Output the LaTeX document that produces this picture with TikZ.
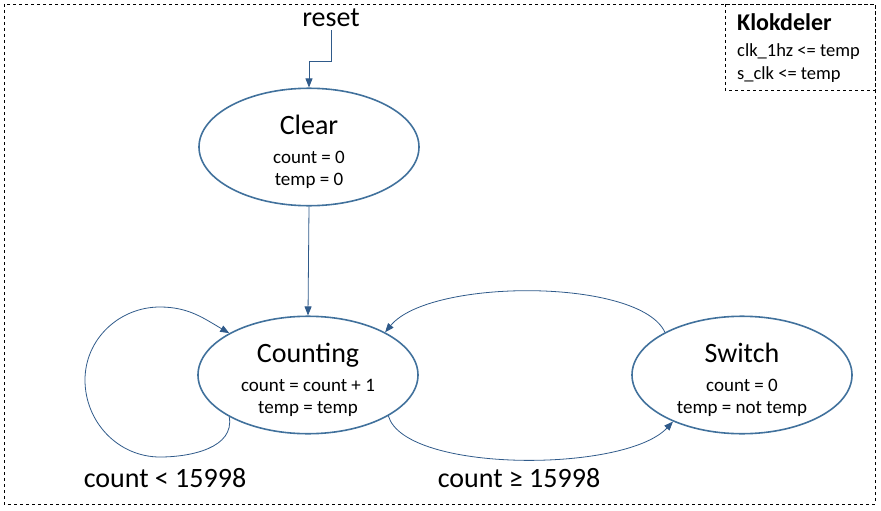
\documentclass[tikz,border=0pt]{standalone}
\usepackage{fontspec}
\setmainfont{Carlito}
\usetikzlibrary{shapes.geometric,arrows.meta}
\definecolor{rim}{HTML}{41719C}
\definecolor{wire}{HTML}{2F5A8A}
\tikzset{
 state/.style={ellipse,draw=rim,line width=1.6pt,minimum width=220pt,minimum height=114pt,inner sep=0pt,align=center,font=\fontsize{19}{22}\selectfont},
 link/.style={draw=wire,line width=0.8pt,->,>={Stealth[length=9pt,width=7pt,inset=0pt]}},
}
\newcommand{\titletxt}[1]{{\fontsize{28}{30}\selectfont #1}}
\begin{document}
\begin{tikzpicture}[x=1pt,y=-1pt]
 \useasboundingbox (0,0) rectangle (881,511); %全体
 \draw[dashed,line width=0.8pt] (4,4) rectangle (875,504); %外枠
 \draw[dashed,line width=0.8pt] (725,4) rectangle (875,90); %Klokdeler枠
 \node[anchor=north west,align=left,inner sep=0pt,font=\fontsize{18.5}{23}\selectfont] (klok) at (737,13)
  {{\fontsize{24}{26}\selectfont\bfseries Klokdeler}\\[3pt] clk\_1hz <= temp\\ s\_clk <= temp}; %Klokdeler
 \node (reset) at (331,18) {\titletxt{reset}}; %reset
 \node[state] (Clear) at (309,147) {\rule{0pt}{29pt}\titletxt{Clear}\\[7pt]count = 0\\temp = 0}; %Clear
 \node[state] (Counting) at (308,375) {\rule{0pt}{29pt}\titletxt{Counting}\\[7pt]count = count + 1\\temp = temp}; %Counting
 \node[state] (Switch) at (742,375) {\rule{0pt}{29pt}\titletxt{Switch}\\[7pt]count = 0\\temp = not temp}; %Switch
 \coordinate (kink) at (309,61); %折れ点
 \coordinate (lpB) at (160,457); %ループ下
 \coordinate (lpL) at (85,380); %ループ左
 \coordinate (lpT) at (160,307); %ループ上
 \draw[link] (reset.south) |- (kink) -- (Clear.north); %reset
 \draw[link] (Clear.south) -- (Counting.north); %Clear→Counting
 \draw[link] (Counting.208) to[out=-80,in=0] (lpB) to[out=180,in=-90] (lpL)
  to[out=90,in=180] (lpT) to[out=0,in=150] (Counting.152); %自己ループ
 \draw[link] (Switch.151) .. controls (640,278) and (430,278) .. (Counting.29); %Switch→Counting
 \draw[link] (Counting.-27) .. controls (405,473) and (625,473) .. (Switch.214); %Counting→Switch
 \node (lo) at (165,478) {\titletxt{count < 15998}}; %条件1
 \node (hi) at (519,478) {\titletxt{count ≥ 15998}}; %条件2
\end{tikzpicture}
\end{document}
